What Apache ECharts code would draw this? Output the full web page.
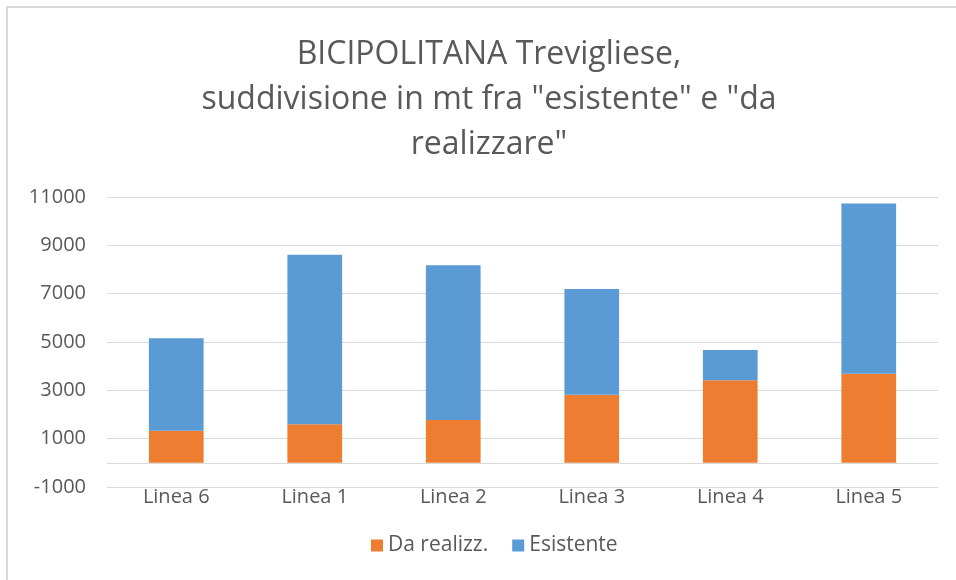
<!DOCTYPE html>
<html>
<head>
<meta charset="utf-8">
<script src="https://cdn.jsdelivr.net/npm/echarts@6/dist/echarts.min.js"></script>
<style>
html,body{margin:0;padding:0;background:#fff;}
#c{width:956px;height:580px;}
</style>
</head>
<body>
<div id="c"></div>
<script>
const categories = ['Linea 6', 'Linea 1', 'Linea 2', 'Linea 3', 'Linea 4', 'Linea 5'];
const daRealizz = [1330, 1600, 1770, 2820, 3420, 3690];
const esistente = [3830, 7010, 6410, 4370, 1250, 7040];
const yTicks = [-1000, 1000, 3000, 5000, 7000, 9000, 11000];

const FONT = '"Open Sans"';
const chart = echarts.init(document.getElementById('c'));
chart.setOption({
  animation: false,
  backgroundColor: '#fff',
  textStyle: { fontFamily: FONT },
  graphic: [{
    type: 'rect',
    shape: { x: 7, y: 7, width: 980, height: 620 },
    style: { fill: 'none', stroke: '#D9D9D9', lineWidth: 2 },
    silent: true
  }],
  title: {
    text: 'BICIPOLITANA Trevigliese,\nsuddivisione in mt fra "esistente" e "da\nrealizzare"',
    left: 484,
    textAlign: 'center',
    top: 27,
    textStyle: { fontFamily: FONT, fontSize: 32, fontWeight: 'normal', color: '#595959', lineHeight: 45 }
  },
  legend: {
    bottom: 19,
    left: 366,
    itemWidth: 12,
    itemHeight: 12,
    itemGap: 24,
    icon: 'rect',
    textStyle: { fontFamily: FONT, fontSize: 21, color: '#595959', padding: [0, 0, 0, 0] },
    data: ['Da realizz.', 'Esistente']
  },
  grid: { left: 107, right: 18, top: 197, bottom: 93 },
  xAxis: {
    type: 'category',
    data: categories,
    axisLine: { show: false },
    axisTick: { show: false },
    axisLabel: { margin: 0, fontFamily: FONT, fontSize: 20, color: '#595959' }
  },
  yAxis: {
    type: 'value',
    min: yTicks[0],
    max: yTicks[yTicks.length - 1],
    interval: 2000,
    axisLine: { show: false },
    axisTick: { show: false },
    axisLabel: { margin: 21, fontFamily: FONT, fontSize: 20, color: '#595959', formatter: v => String(v) },
    splitLine: { lineStyle: { color: '#D9D9D9', width: 1 } }
  },
  series: [
    {
      name: 'Da realizz.',
      type: 'bar',
      stack: 'tot',
      barWidth: '39.5%',
      data: daRealizz,
      itemStyle: { color: '#ED7D31' },
      markLine: {
        silent: true,
        symbol: 'none',
        label: { show: false },
        lineStyle: { color: '#D9D9D9', type: 'solid', width: 1 },
        data: [{ yAxis: 0 }]
      }
    },
    {
      name: 'Esistente',
      type: 'bar',
      stack: 'tot',
      data: esistente,
      itemStyle: { color: '#5B9BD5' }
    }
  ]
});
</script>
</body>
</html>
